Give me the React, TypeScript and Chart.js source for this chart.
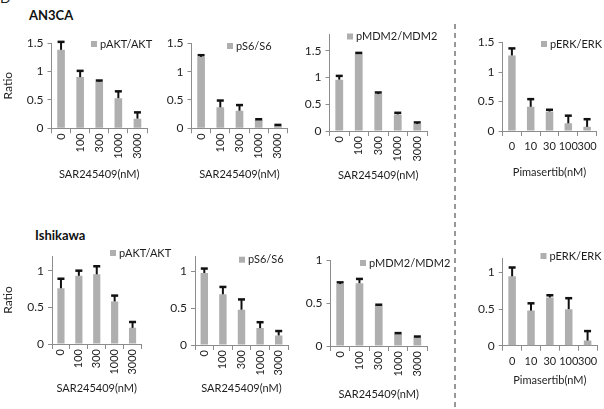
import React, { useEffect, useRef } from 'react';
import { Chart, registerables } from 'chart.js';

Chart.register(...registerables);

// ---- data ----
const sarDoses = ['0', '100', '300', '1000', '3000'];
const pimaDoses = ['0', '10', '30', '100', '300'];

const an3caAkt = [1.38, 0.9, 0.82, 0.53, 0.17];
const an3caAktErr = [0.14, 0.11, 0.02, 0.12, 0.11];
const an3caS6 = [1.26, 0.37, 0.31, 0.15, 0.05];
const an3caS6Err = [0.03, 0.12, 0.1, 0.01, 0.01];
const an3caMdm2 = [0.96, 1.45, 0.69, 0.31, 0.13];
const an3caMdm2Err = [0.07, 0.01, 0.03, 0.03, 0.03];
const an3caErk = [1.28, 0.41, 0.33, 0.13, 0.07];
const an3caErkErr = [0.12, 0.13, 0.03, 0.13, 0.13];

const ishAkt = [0.76, 0.93, 0.95, 0.58, 0.22];
const ishAktErr = [0.13, 0.07, 0.11, 0.08, 0.08];
const ishS6 = [0.98, 0.69, 0.48, 0.23, 0.13];
const ishS6Err = [0.06, 0.1, 0.14, 0.08, 0.06];
const ishMdm2 = [0.72, 0.73, 0.47, 0.14, 0.1];
const ishMdm2Err = [0.02, 0.05, 0.01, 0.01, 0.01];
const ishErk = [0.95, 0.48, 0.66, 0.5, 0.07];
const ishErkErr = [0.12, 0.1, 0.03, 0.15, 0.13];

const sarTitle = 'SAR245409(nM)';
const pimaTitle = 'Pimasertib(nM)';

// ---- styles ----
const FONT = 'Lato, "Open Sans", sans-serif';
const BAR = '#afafaf';
const AXIS = '#8c8c8c';
const TEXT = '#1e1e1e';

type Panel = {
  labels: string[];
  values: number[];
  errors: number[];
  legend: string;
  xTitle: string;
  yTitle?: string;
  yMax: number;
  rotate: boolean;
  plot: { l: number; r: number; t: number; b: number };
  titleY: number;
  legendAt: { x: number; y: number };
};

const panels: Panel[] = [
  { labels: sarDoses, values: an3caAkt, errors: an3caAktErr, legend: 'pAKT/AKT', xTitle: sarTitle, yTitle: 'Ratio', yMax: 1.5, rotate: true,
    plot: { l: 51.5, r: 147, t: 43, b: 128.3 }, titleY: 174.3, legendAt: { x: 91, y: 44 } },
  { labels: sarDoses, values: an3caS6, errors: an3caS6Err, legend: 'pS6/S6', xTitle: sarTitle, yMax: 1.5, rotate: true,
    plot: { l: 191.5, r: 287.5, t: 43.3, b: 128.3 }, titleY: 174, legendAt: { x: 227, y: 46 } },
  { labels: sarDoses, values: an3caMdm2, errors: an3caMdm2Err, legend: 'pMDM2/MDM2', xTitle: sarTitle, yMax: 1.8, rotate: true,
    plot: { l: 329.5, r: 427, t: 34.7, b: 131 }, titleY: 175, legendAt: { x: 347, y: 36.5 } },
  { labels: pimaDoses, values: an3caErk, errors: an3caErkErr, legend: 'pERK/ERK', xTitle: pimaTitle, yMax: 1.5, rotate: false,
    plot: { l: 502.5, r: 596.5, t: 42.5, b: 131 }, titleY: 172, legendAt: { x: 541, y: 44 } },
  { labels: sarDoses, values: ishAkt, errors: ishAktErr, legend: 'pAKT/AKT', xTitle: sarTitle, yTitle: 'Ratio', yMax: 1.2, rotate: true,
    plot: { l: 52, r: 141.5, t: 256, b: 344 }, titleY: 388, legendAt: { x: 110, y: 253 } },
  { labels: sarDoses, values: ishS6, errors: ishS6Err, legend: 'pS6/S6', xTitle: sarTitle, yMax: 1.2, rotate: true,
    plot: { l: 195, r: 288, t: 256.8, b: 345 }, titleY: 388, legendAt: { x: 239, y: 259.7 } },
  { labels: sarDoses, values: ishMdm2, errors: ishMdm2Err, legend: 'pMDM2/MDM2', xTitle: sarTitle, yMax: 1.0, rotate: true,
    plot: { l: 330.5, r: 427, t: 260, b: 346 }, titleY: 394, legendAt: { x: 360, y: 263 } },
  { labels: pimaDoses, values: ishErk, errors: ishErkErr, legend: 'pERK/ERK', xTitle: pimaTitle, yMax: 1.2, rotate: false,
    plot: { l: 502.7, r: 597, t: 258, b: 345.7 }, titleY: 380, legendAt: { x: 540.5, y: 256 } },
];

function geometry(p: Panel) {
  const hasY = !!p.yTitle;
  const L = hasY ? 0 : Math.floor(p.plot.l - 34);
  const padLeft = hasY ? 1.3 : 0;
  const yw = p.plot.l - L - padLeft;
  const T = Math.floor(p.plot.t - 12);
  const padTop = p.plot.t - T;
  const W = Math.ceil(p.plot.r - L + 60);
  const padRight = W - (p.plot.r - L);
  const xh = p.titleY + 6.6 - p.plot.b;
  const H = Math.ceil(p.plot.b - T + xh);
  const padBottom = H - (p.plot.b - T) - xh;
  return { L, T, W, H, padLeft, padTop, padRight, padBottom, yw, xh };
}

function PanelChart({ p }: { p: Panel }) {
  const ref = useRef<HTMLCanvasElement>(null);
  const g = geometry(p);
  useEffect(() => {
    const errs = p.errors;
    const errorBars = {
      id: 'errorBars',
      afterDatasetsDraw(chart: any) {
        const meta = chart.getDatasetMeta(0);
        const ys = chart.scales.y;
        const ctx = chart.ctx;
        const vals = chart.data.datasets[0].data as number[];
        ctx.save();
        ctx.strokeStyle = '#111';
        meta.data.forEach((bar: any, i: number) => {
          const x = bar.x;
          const y0 = ys.getPixelForValue(vals[i]);
          const y1 = ys.getPixelForValue(vals[i] + errs[i]);
          ctx.lineWidth = 2;
          ctx.beginPath();
          ctx.moveTo(x, y0);
          ctx.lineTo(x, y1);
          ctx.stroke();
          ctx.lineWidth = 2.5;
          ctx.beginPath();
          ctx.moveTo(x - 3.5, y1);
          ctx.lineTo(x + 3.5, y1);
          ctx.stroke();
        });
        ctx.restore();
      },
    };
    const legendBox = {
      id: 'legendBox',
      afterDraw(chart: any) {
        const ctx = chart.ctx;
        const x = p.legendAt.x - g.L;
        const y = p.legendAt.y - g.T;
        ctx.save();
        ctx.fillStyle = BAR;
        ctx.fillRect(x, y - 3, 6, 6);
        ctx.fillStyle = TEXT;
        ctx.font = `11px ${FONT}`;
        ctx.textBaseline = 'middle';
        ctx.textAlign = 'left';
        ctx.fillText(chart.data.datasets[0].label, x + 9, y);
        ctx.restore();
      },
    };
    const chart = new Chart(ref.current as HTMLCanvasElement, {
      type: 'bar',
      data: {
        labels: p.labels,
        datasets: [
          { label: p.legend, data: p.values, backgroundColor: BAR, barPercentage: 0.4, categoryPercentage: 1 },
        ],
      },
      options: {
        responsive: false,
        animation: false,
        devicePixelRatio: 1,
        layout: { padding: { top: g.padTop, left: g.padLeft, right: g.padRight, bottom: g.padBottom } },
        plugins: { legend: { display: false }, tooltip: { enabled: false } },
        scales: {
          x: {
            grid: { display: true, drawOnChartArea: false, drawTicks: true, tickLength: 5, color: AXIS, offset: true },
            border: { color: AXIS, width: 1 },
            ticks: {
              autoSkip: false,
              minRotation: p.rotate ? 90 : 0,
              maxRotation: p.rotate ? 90 : 0,
              padding: p.rotate ? 0 : 4,
              font: { family: FONT, size: 11 },
              color: TEXT,
            },
            title: { display: true, text: p.xTitle, padding: 0, font: { family: FONT, size: 11 }, color: TEXT },
            afterFit: (s: any) => { s.height = g.xh; },
          },
          y: {
            min: 0,
            max: p.yMax,
            grid: { display: true, drawOnChartArea: false, drawTicks: true, tickLength: 4, color: AXIS },
            border: { color: AXIS, width: 1 },
            ticks: {
              stepSize: 0.5,
              includeBounds: false,
              padding: 4,
              font: { family: FONT, size: 12 },
              color: TEXT,
              callback: (v: any) => String(Math.round(Number(v) * 10) / 10),
            },
            title: { display: !!p.yTitle, text: p.yTitle || '', padding: 0, font: { family: FONT, size: 12 }, color: TEXT },
            afterFit: (s: any) => { s.width = g.yw; },
          },
        },
      } as any,
      plugins: [errorBars, legendBox],
    });
    return () => chart.destroy();
  }, []);
  return (
    <canvas
      ref={ref}
      width={g.W}
      height={g.H}
      style={{ position: 'absolute', left: g.L, top: g.T, width: g.W, height: g.H }}
    />
  );
}

export default function App() {
  return (
    <div style={{ position: 'fixed', left: 0, top: 0, width: 604, height: 409, overflow: 'hidden', background: '#fff', fontFamily: FONT }}>
      <div style={{ position: 'absolute', left: 0, top: -9, fontSize: 14, lineHeight: '14px', color: TEXT }}>D</div>
      <div style={{ position: 'absolute', left: 29, top: 7, fontSize: 13, lineHeight: '16px', fontWeight: 'bold', color: '#111' }}>AN3CA</div>
      <div style={{ position: 'absolute', left: 35, top: 227, fontSize: 13, lineHeight: '16px', fontWeight: 'bold', color: '#111' }}>Ishikawa</div>
      <svg style={{ position: 'absolute', left: 453, top: 24 }} width={4} height={385}>
        <line x1={2} y1={0} x2={2} y2={385} stroke="#777" strokeWidth={1.5} strokeDasharray="5 4" />
      </svg>
      {panels.map((p, i) => (
        <PanelChart key={i} p={p} />
      ))}
    </div>
  );
}
